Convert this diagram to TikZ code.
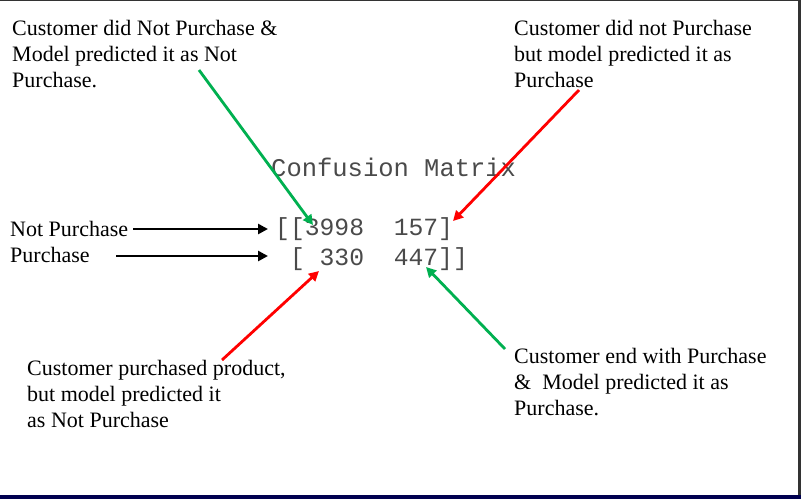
\documentclass[tikz,border=0pt]{standalone}
\usepackage{fontspec}
\setmainfont{Liberation Serif}
\newfontfamily\matfont{Liberation Mono}
\usetikzlibrary{arrows.meta}
\definecolor{arrgreen}{HTML}{00B050}
\definecolor{arrred}{HTML}{FF0000}
\definecolor{matgray}{HTML}{4A4A4A}
\definecolor{navyline}{HTML}{000050}
\begin{document}
\begin{tikzpicture}[x=1pt,y=-1pt,
  lbl/.style={anchor=west,align=left,inner sep=0pt,font=\fontsize{22}{26}\selectfont},
  mat/.style={anchor=west,inner sep=0pt,text=matgray,font=\matfont\fontsize{24.7}{30}\selectfont},
  arr/.style={line width=2.8pt,-{Triangle[length=10pt,width=10pt]}},
  garr/.style={arr,draw=arrgreen},
  rarr/.style={arr,draw=arrred},
  karr/.style={arr,draw=black}]
\useasboundingbox (0,0) rectangle (801,499);
\fill[white] (0,0) rectangle (801,499);
\fill[black!80] (0,0) rectangle (801,1.2);
\fill[black!80] (798,0) rectangle (801,499);
\fill[navyline] (0,495) rectangle (801,499);

\node[lbl] (tl) at (12,54) {Customer did Not Purchase \&\\Model predicted it as Not\\Purchase.};
\node[lbl] (tr) at (514,54) {Customer did not Purchase\\but model predicted it as\\Purchase};
\node[lbl] (bl) at (27,394) {Customer purchased product,\\but model predicted it\\as Not Purchase};
\node[lbl] (br) at (514,382) {Customer end with Purchase\\\&\ \ Model predicted it as\\Purchase.};
\node[lbl] (np) at (10,229) {Not Purchase};
\node[lbl] (pu) at (10,255) {Purchase};

\node[mat,font=\matfont\fontsize{25.5}{30}\selectfont] (title) at (271,167) {Confusion Matrix};
\node[mat] (row1) at (275,229) {[[3998\ \ 157]};
\node[mat] (row2) at (275,259) {\ [ 330\ \ 447]]};

\coordinate (g1s) at (199,70);
\coordinate (g1e) at (313,225);
\coordinate (r1s) at (579,90);
\coordinate (r1e) at (453,221);
\coordinate (r2s) at (222,360);
\coordinate (r2e) at (319,271);
\coordinate (g2s) at (505,349);
\coordinate (g2e) at (426,267);
\coordinate (k1s) at (133,229);
\coordinate (k1e) at (268,229);
\coordinate (k2s) at (116,256);
\coordinate (k2e) at (268,256);

\draw[garr] (g1s) -- (g1e);
\draw[rarr] (r1s) -- (r1e);
\draw[rarr] (r2s) -- (r2e);
\draw[garr] (g2s) -- (g2e);
\draw[karr] (k1s) -- (k1e);
\draw[karr] (k2s) -- (k2e);
\end{tikzpicture}
\end{document}
